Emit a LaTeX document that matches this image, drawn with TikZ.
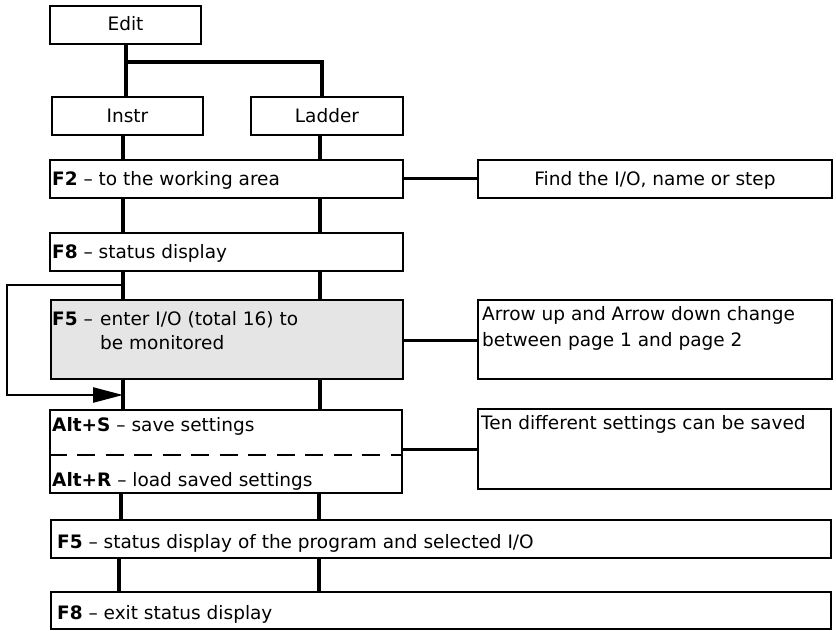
\documentclass[tikz,border=0pt]{standalone}
\usepackage{fontspec}
\setmainfont{DejaVu Sans}
\usetikzlibrary{arrows.meta}
\begin{document}
\begin{tikzpicture}[x=1pt,y=-1pt,
  box/.style={draw, line width=2.3pt, inner sep=0pt, rectangle},
  conn/.style={line width=3.6pt},
  hconn/.style={line width=3pt},
  loopline/.style={line width=2.5pt},
  tx/.style={inner sep=0pt, anchor=base west, font=\fontsize{18.5}{24}\selectfont},
  ctx/.style={inner sep=0pt, anchor=base, font=\fontsize{18.5}{24}\selectfont},
  sep/.style={line width=2pt, dash pattern=on 18pt off 10.5pt}
  ]
\useasboundingbox (0,0) rectangle (836,630);

% boxes
\node[box, minimum width=151pt, minimum height=38pt] (edit)   at (125.5,25) {};
\node[box, minimum width=151pt, minimum height=38pt] (instr)  at (127.5,116) {};
\node[box, minimum width=152pt, minimum height=38pt] (ladder) at (327,116) {};
\node[box, minimum width=353pt, minimum height=38pt] (f2)     at (226.5,179) {};
\node[box, minimum width=354pt, minimum height=38pt] (find)   at (655,179) {};
\node[box, minimum width=353pt, minimum height=38pt] (f8)     at (226.5,252) {};
\node[box, fill=black!10, minimum width=352pt, minimum height=79pt] (f5) at (227,339.5) {};
\node[box, minimum width=354pt, minimum height=79pt] (arr)    at (655,339.5) {};
\node[box, minimum width=352pt, minimum height=83pt] (alt)    at (226,451.5) {};
\node[box, minimum width=353pt, minimum height=80pt] (ten)    at (654.5,449) {};
\node[box, minimum width=780pt, minimum height=38pt] (f5b)    at (441,539) {};
\node[box, minimum width=780pt, minimum height=37pt] (f8b)    at (441,610.5) {};

% texts
\node[ctx] (tedit)   at (125.5,30.5) {Edit};
\node[ctx] (tinstr)  at (127.5,122.5) {Instr};
\node[ctx] (tladder) at (327,122.5) {Ladder};
\node[tx]  (tf2)     at (52,185) {\textbf{F2} -- to the working area};
\node[ctx] (tfind)   at (655,185) {Find the I/O, name or step};
\node[tx]  (tf8)     at (52,258) {\textbf{F8} -- status display};
\node[tx]  (tf5a)    at (52,325) {\textbf{F5} --};
\node[tx]  (tf5b)    at (100,325) {enter I/O (total 16) to};
\node[tx]  (tf5c)    at (100,349) {be monitored};
\node[tx]  (tarra)   at (482,320) {Arrow up and Arrow down change};
\node[tx]  (tarrb)   at (482,346) {between page 1 and page 2};
\node[tx]  (talts)   at (52,431.5) {\textbf{Alt+S} -- save settings};
\node[tx]  (taltr)   at (52,486) {\textbf{Alt+R} -- load saved settings};
\node[tx]  (tten)    at (481,429.5) {Ten different settings can be saved};
\node[tx]  (tf5d)    at (57,548) {\textbf{F5} -- status display of the program and selected I/O};
\node[tx]  (tf8d)    at (57,619.5) {\textbf{F8} -- exit status display};

% column coordinates
\coordinate (E) at (126,0);
\coordinate (EB) at (126,62);
\coordinate (ER) at (322,62);
\coordinate (L) at (123,0);
\coordinate (R) at (320,0);
\coordinate (L2) at (121,0);
\coordinate (R2) at (319,0);
\coordinate (L3) at (119,0);
\coordinate (D) at (0,455);
\coordinate (Y1) at (0,178);
\coordinate (Y2) at (0,340);
\coordinate (Y3) at (0,449);
\coordinate (lpA) at (123,285);
\coordinate (lpB) at (7,285);
\coordinate (lpC) at (7,395);
\coordinate (lpD) at (123,395);

% connectors
\draw[conn] (edit.south -| E) -- (instr.north -| E);
\draw[conn] (EB) -- (ER) -- (ladder.north -| ER);
\draw[conn] (instr.south -| L) -- (f2.north -| L);
\draw[conn] (ladder.south -| R) -- (f2.north -| R);
\draw[conn] (f2.south -| L) -- (f8.north -| L);
\draw[conn] (f2.south -| R) -- (f8.north -| R);
\draw[conn] (f8.south -| L) -- (f5.north -| L);
\draw[conn] (f8.south -| R) -- (f5.north -| R);
\draw[conn] (f5.south -| L) -- (alt.north -| L);
\draw[conn] (f5.south -| R) -- (alt.north -| R);
\draw[conn] (alt.south -| L2) -- (f5b.north -| L2);
\draw[conn] (alt.south -| R2) -- (f5b.north -| R2);
\draw[conn] (f5b.south -| L3) -- (f8b.north -| L3);
\draw[conn] (f5b.south -| R2) -- (f8b.north -| R2);
\draw[hconn] (f2.east |- Y1) -- (find.west |- Y1);
\draw[hconn] (f5.east |- Y2) -- (arr.west |- Y2);
\draw[hconn] (alt.east |- Y3) -- (ten.west |- Y3);
\draw[loopline, -{Triangle[length=30pt,width=15pt]}] (lpA) -- (lpB) -- (lpC) -- (lpD);

% separator
\draw[sep] (alt.west |- D) -- (alt.east |- D);
\end{tikzpicture}
\end{document}
